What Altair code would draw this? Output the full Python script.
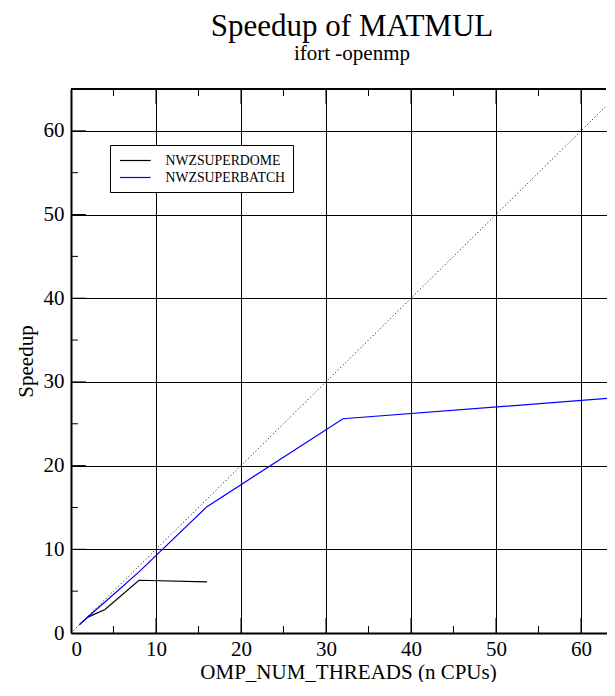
import altair as alt
import pandas as pd

# ---- data ----
SERIES = ["NWZSUPERDOME", "NWZSUPERBATCH"]
COLORS = ["#000000", "#0000ff"]
DOME_CPUS = [1, 2, 4, 8, 16]
DOME_SPEEDUP = [1.0, 1.9, 2.8, 6.3, 6.1]
BATCH_CPUS = [1, 2, 4, 8, 16, 32, 64]
BATCH_SPEEDUP = [1.0, 1.95, 3.7, 7.3, 15.1, 25.6, 28.1]
IDEAL_CPUS = [0, 65]
IDEAL_SPEEDUP = [0, 65]
MAJOR_TICKS = [0, 10, 20, 30, 40, 50, 60]
MINOR_TICKS = [5, 15, 25, 35, 45, 55]
X_DOMAIN = [0, 63.06]
Y_DOMAIN = [0, 65]

W, H = 536, 544
FONT = "Liberation Serif"
XTITLE = "OMP_NUM_THREADS (n CPUs)"
YTITLE = "Speedup"

rows = []
for s, xv, yv in [(SERIES[0], DOME_CPUS, DOME_SPEEDUP), (SERIES[1], BATCH_CPUS, BATCH_SPEEDUP)]:
    for x, y in zip(xv, yv):
        rows.append({"series": s, "cpus": x, "speedup": y})
df = pd.DataFrame(rows)
ideal = pd.DataFrame({"cpus": IDEAL_CPUS, "speedup": IDEAL_SPEEDUP})
minor = pd.DataFrame({"cpus": MINOR_TICKS, "speedup": MINOR_TICKS})
major = pd.DataFrame({"cpus": MAJOR_TICKS[1:], "speedup": MAJOR_TICKS[1:]})

xs = alt.Scale(domain=X_DOMAIN, nice=False, zero=False)
ys = alt.Scale(domain=Y_DOMAIN, nice=False, zero=False)
XAX = alt.Axis(values=MAJOR_TICKS, grid=True, ticks=False, domain=True,
               labelPadding=5, titlePadding=2, titleX=277)
YAX = alt.Axis(values=MAJOR_TICKS, grid=True, ticks=False, domain=True,
               labelPadding=7, titlePadding=7)


def X():
    return alt.X("cpus:Q", scale=xs, title=XTITLE, axis=XAX)


def Y():
    return alt.Y("speedup:Q", scale=ys, title=YTITLE, axis=YAX)


lines = alt.Chart(df).mark_line(strokeWidth=1.2, clip=True).encode(
    x=X(), y=Y(),
    color=alt.Color("series:N", scale=alt.Scale(domain=SERIES, range=COLORS),
                    legend=alt.Legend(orient="none", legendX=39, legendY=56, title=None,
                                      labelFont=FONT, labelFontSize=13.8, labelColor="black",
                                      labelExpr="datum.label + '\u00a0\u00a0'",
                                      symbolType="M-0.71,0H3.24", symbolSize=240,
                                      symbolStrokeWidth=1.2, labelOffset=31.5,
                                      strokeColor="black", fillColor="white",
                                      padding=7, rowPadding=1)),
)

diag = alt.Chart(ideal).mark_line(color="black", strokeWidth=1, strokeDash=[1, 2.5],
                                  clip=True).encode(x=X(), y=Y())


def xticks(vals, y0, y1):
    return alt.Chart(vals).mark_rule(color="black", strokeWidth=1).encode(
        x=X(), y=alt.value(y0), y2=alt.value(y1))


def yticks(vals, x0, x1):
    return alt.Chart(vals).mark_rule(color="black", strokeWidth=1).encode(
        y=Y(), x=alt.value(x0), x2=alt.value(x1))


top_frame = alt.Chart(ideal).mark_rule(color="black", strokeWidth=2).encode(
    x=alt.value(0), x2=alt.value(W - 1), y=alt.value(0))

ticks = [
    xticks(minor, H, H - 7), xticks(minor, 0, 7),
    xticks(major, H, H - 15), xticks(major, 0, 15),
    yticks(minor, 0, 7), yticks(major, 0, 15),
]

chart = alt.layer(diag, *ticks, top_frame, lines).properties(
    width=W, height=H,
    padding={"left": 7, "top": 3, "right": 0, "bottom": 0},
    title=alt.Title("Speedup of MATMUL", subtitle="ifort -openmp", font=FONT, subtitleFont=FONT,
                    fontSize=31, subtitleFontSize=21, fontWeight="normal", color="black",
                    subtitleColor="black", anchor="middle", frame="group", offset=23,
                    subtitlePadding=0, dx=13),
).configure_view(stroke=None).configure_axis(
    labelFont=FONT, titleFont=FONT, labelFontSize=21, titleFontSize=21,
    labelColor="black", titleColor="black", titleFontWeight="normal",
    gridColor="black", gridOpacity=1, gridWidth=1,
    domainColor="black", domainWidth=2,
)

chart.save("out.html", embed_options={"renderer": "svg", "actions": False})
